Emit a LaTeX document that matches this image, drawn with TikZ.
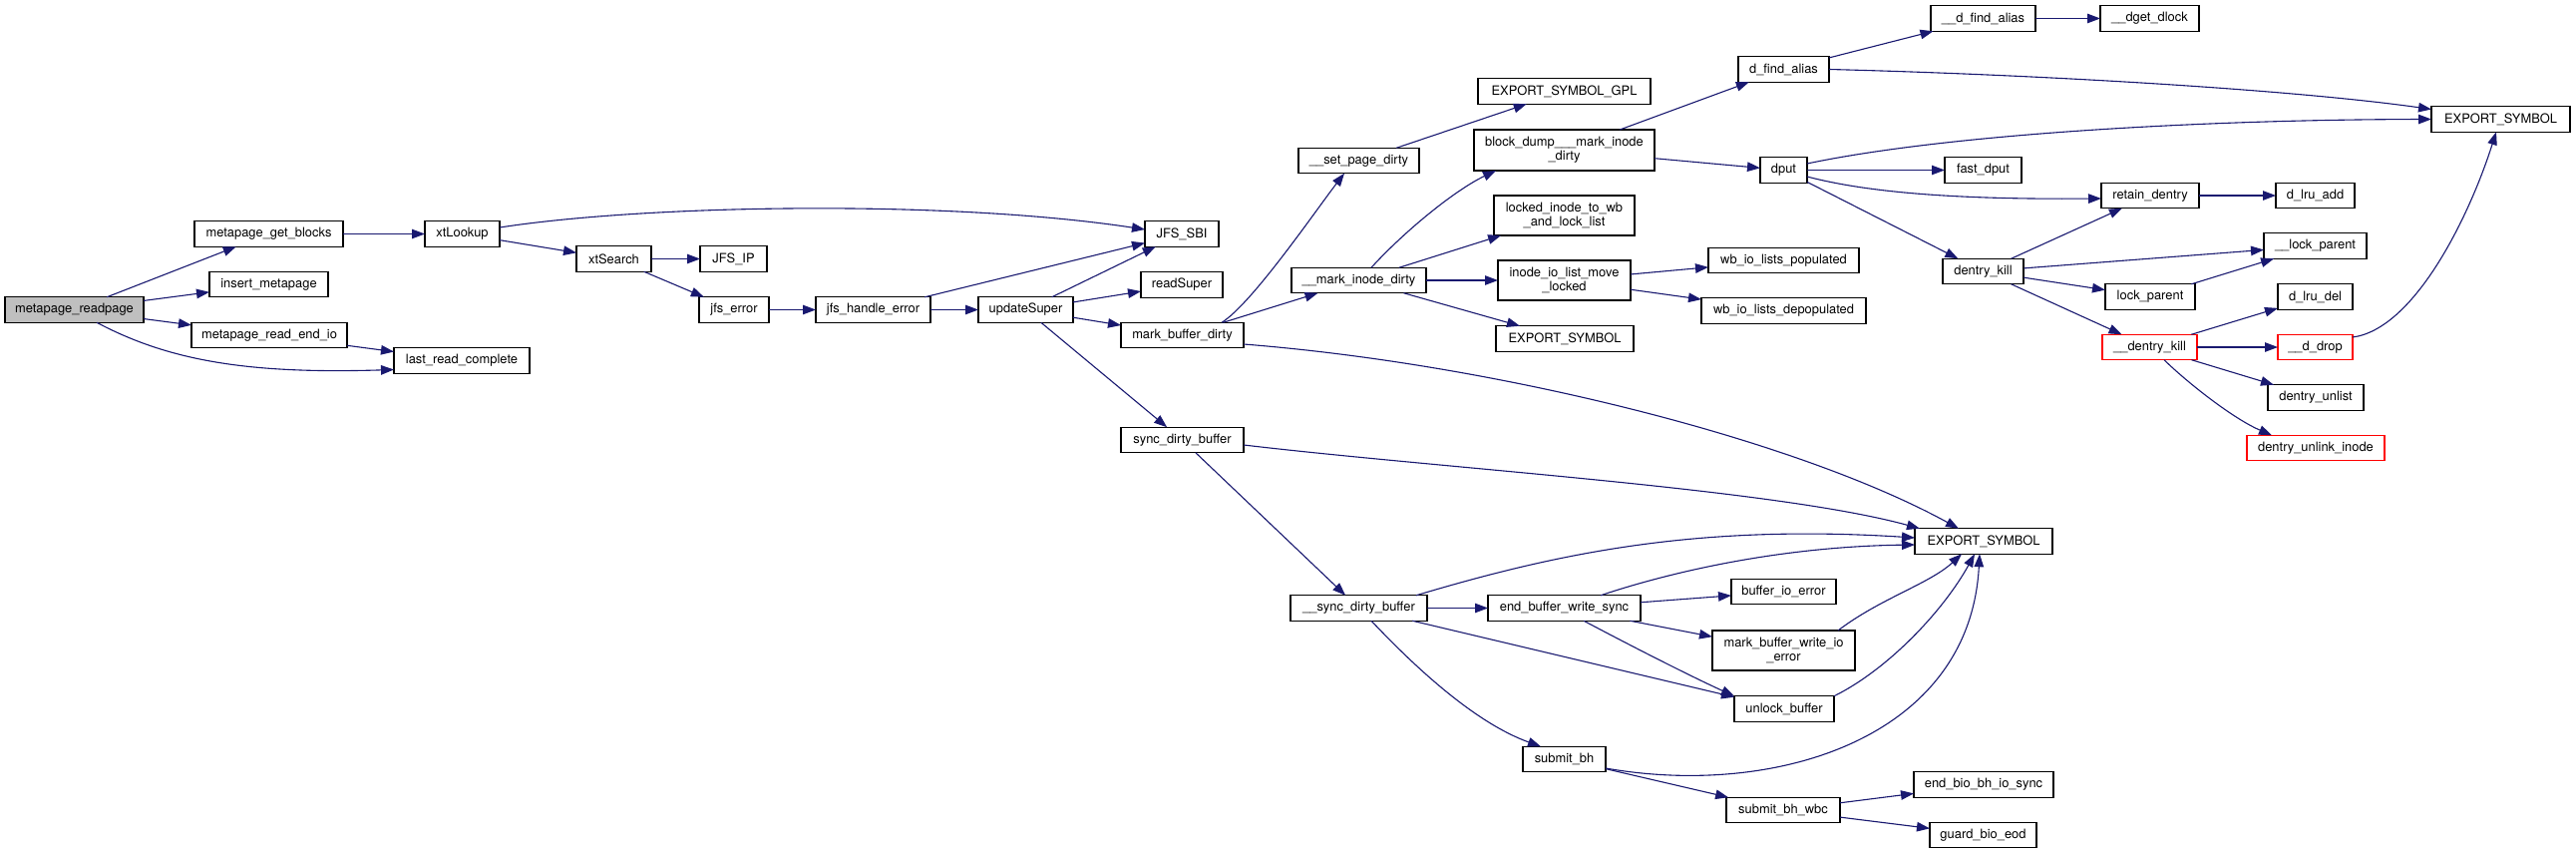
\documentclass[tikz,border=0pt]{standalone}
\usepackage{fontspec}
\setmainfont{TeX Gyre Heros}
\usetikzlibrary{arrows.meta,calc}
\definecolor{edgec}{HTML}{191970}
\definecolor{rootfill}{HTML}{BFBFBF}
\begin{document}
\begin{tikzpicture}[x=1pt,y=-1pt,
  box/.style={draw=black,line width=1.1pt,fill=white,inner sep=0pt,outer sep=0pt,
    minimum height=25.5pt,font=\fontsize{12.9}{14}\selectfont,align=center},
  redbox/.style={box,draw=red},
  edge/.style={draw=edgec,line width=1.1pt,-{Triangle[length=13pt,width=9.5pt]}}]
\fill[white] (0,0) rectangle (2583,856);
\useasboundingbox (0,0) rectangle (2583,856);
% nodes
\node[box,fill=rootfill,minimum width=139pt] (mrp) at (74.5,310.5) {metapage\_readpage};
\node[box,minimum width=149pt] (mgb) at (269.5,234.5) {metapage\_get\_blocks};
\node[box,minimum width=119pt] (ins) at (269.5,285) {insert\_metapage};
\node[box,minimum width=156pt] (mre) at (270,336) {metapage\_read\_end\_io};
\node[box,minimum width=136pt] (lrc) at (463,361.5) {last\_read\_complete};
\node[box,minimum width=75pt] (xtl) at (463.5,234.5) {xtLookup};
\node[box,minimum width=75pt] (xts) at (615.5,259.5) {xtSearch};
\node[box,minimum width=67pt] (jip) at (735.5,259.5) {JFS\_IP};
\node[box,minimum width=70pt] (jerr) at (736,310.5) {jfs\_error};
\node[box,minimum width=115pt] (jhe) at (875.5,310.5) {jfs\_handle\_error};
\node[box,minimum width=95pt] (ups) at (1028.5,310.5) {updateSuper};
\node[box,minimum width=74pt] (sbi) at (1185,234.5) {JFS\_SBI};
\node[box,minimum width=82pt] (rs) at (1185,285.5) {readSuper};
\node[box,minimum width=123pt] (mbd) at (1185.5,336) {mark\_buffer\_dirty};
\node[box,minimum width=123pt] (sdb) at (1185.5,441) {sync\_dirty\_buffer};
\node[box,minimum width=121pt] (spd) at (1362.5,161) {\_\_set\_page\_dirty};
\node[box,minimum width=135pt] (mid) at (1362.5,281) {\_\_mark\_inode\_dirty};
\node[box,minimum width=173pt] (esg) at (1568.5,91.5) {EXPORT\_SYMBOL\_GPL};
\node[box,minimum width=181pt,minimum height=41pt] (bdm) at (1568.5,150.5) {block\_dump\_\_\_mark\_inode\\\_dirty};
\node[box,minimum width=141pt,minimum height=40pt] (liw) at (1568.5,216) {locked\_inode\_to\_wb\\\_and\_lock\_list};
\node[box,minimum width=133pt,minimum height=40pt] (iol) at (1568.5,281) {inode\_io\_list\_move\\\_locked};
\node[box,minimum width=138pt] (es2) at (1569,339.5) {EXPORT\_SYMBOL};
\node[box,minimum width=91pt] (dfa) at (1788.5,69.5) {d\_find\_alias};
\node[box,minimum width=47pt] (dput) at (1788.5,170.5) {dput};
\node[box,minimum width=151pt] (wbp) at (1788.5,261) {wb\_io\_lists\_populated};
\node[box,minimum width=165pt] (wbd) at (1788.5,311.5) {wb\_io\_lists\_depopulated};
\node[box,minimum width=105pt] (dfa2) at (1988.5,18.5) {\_\_d\_find\_alias};
\node[box,minimum width=99pt] (dgd) at (2155.5,18.5) {\_\_dget\_dlock};
\node[box,minimum width=77pt] (fdp) at (1988.5,170.5) {fast\_dput};
\node[box,minimum width=98pt] (rd) at (2156,196) {retain\_dentry};
\node[box,minimum width=81pt] (dk) at (1988.5,272) {dentry\_kill};
\node[box,minimum width=90pt] (lp) at (2156,297.5) {lock\_parent};
\node[box,minimum width=139pt] (es1) at (2507.5,119.5) {EXPORT\_SYMBOL};
\node[box,minimum width=79pt] (dla) at (2321.5,196) {d\_lru\_add};
\node[box,minimum width=103pt] (llp) at (2321.5,246.5) {\_\_lock\_parent};
\node[box,minimum width=75pt] (dld) at (2321.5,297.5) {d\_lru\_del};
\node[redbox,minimum width=95pt] (dki) at (2155.5,348) {\_\_dentry\_kill};
\node[redbox,minimum width=75pt] (ddr) at (2321.5,348) {\_\_d\_drop};
\node[box,minimum width=96pt] (dul) at (2322,398.5) {dentry\_unlist};
\node[redbox,minimum width=138pt] (dui) at (2322,449) {dentry\_unlink\_inode};
\node[box,minimum width=138pt] (es3) at (1989,542.5) {EXPORT\_SYMBOL};
\node[box,minimum width=137pt] (sdb2) at (1362.5,609.5) {\_\_sync\_dirty\_buffer};
\node[box,minimum width=153pt] (ebw) at (1568.5,609.5) {end\_buffer\_write\_sync};
\node[box,minimum width=105pt] (bie) at (1788.5,593) {buffer\_io\_error};
\node[box,minimum width=143pt,minimum height=40pt] (mbw) at (1788.5,652) {mark\_buffer\_write\_io\\\_error};
\node[box,minimum width=100pt] (ub) at (1789,710.5) {unlock\_buffer};
\node[box,minimum width=83pt] (sbh) at (1568.5,761) {submit\_bh};
\node[box,minimum width=114pt] (sbw) at (1788,812) {submit\_bh\_wbc};
\node[box,minimum width=140pt] (ebb) at (1989,786.5) {end\_bio\_bh\_io\_sync};
\node[box,minimum width=107pt] (gbe) at (1988.5,837) {guard\_bio\_eod};
% edges
\draw[edge] (mrp) -- (mgb);
\draw[edge] (mrp) -- (ins);
\draw[edge] (mrp) -- (mre);
\draw[edge] ($(mrp.south)+(22.5,0)$) .. controls (170,362) and (250,375) .. ($(lrc.west)+(0,9)$);
\draw[edge] (mre) -- (lrc);
\draw[edge] (mgb) -- (xtl);
\draw[edge] ($(xtl.east)+(0,-6.5)$) .. controls (650,205) and (950,200) .. ($(sbi.west)+(0,-4.5)$);
\draw[edge] (xtl) -- (xts);
\draw[edge] (xts) -- (jip);
\draw[edge] (xts) -- (jerr);
\draw[edge] (jerr) -- (jhe);
\draw[edge] (jhe) -- (sbi);
\draw[edge] (jhe) -- (ups);
\draw[edge] (ups) -- (sbi);
\draw[edge] (ups) -- (rs);
\draw[edge] (ups) -- (mbd);
\draw[edge] (ups) -- (sdb);
\draw[edge] ($(mbd.north)+(39.5,0)$) .. controls (1255,305) and (1320,210) .. ($(spd.south)+(-14.5,0)$);
\draw[edge] (mbd) -- (mid);
\draw[edge] ($(mbd.east)+(0,9)$) .. controls (1500,365) and (1800,440) .. ($(es3.north)+(-25,0)$);
\draw[edge] (spd) -- (esg);
\draw[edge] ($(mid.north)+(12.5,0)$) .. controls (1410,230) and (1460,190) .. ($(bdm.south)+(-68.5,0)$);
\draw[edge] (mid) -- (liw);
\draw[edge] (mid) -- (iol);
\draw[edge] (mid) -- (es2);
\draw[edge] (bdm) -- (dfa);
\draw[edge] (bdm) -- (dput);
\draw[edge] (iol) -- (wbp);
\draw[edge] (iol) -- (wbd);
\draw[edge] (dfa) -- (dfa2);
\draw[edge] (dfa.east) .. controls (2050,75) and (2300,90) .. ($(es1.west)+(0,-10)$);
\draw[edge] (dfa2) -- (dgd);
\draw[edge] ($(dput.east)+(0,-6.5)$) .. controls (1950,135) and (2200,120) .. (es1.west);
\draw[edge] (dput) -- (fdp);
\draw[edge] ($(dput.east)+(0,6.5)$) .. controls (1880,195) and (1980,200) .. ($(rd.west)+(0,3)$);
\draw[edge] (dput) -- (dk);
\draw[edge] (dk) -- (rd);
\draw[edge] (dk) -- (llp);
\draw[edge] (dk) -- (lp);
\draw[edge] (dk) -- (dki);
\draw[edge] (lp) -- (llp);
\draw[edge] (rd) -- (dla);
\draw[edge] (dki) -- (dld);
\draw[edge] (dki) -- (ddr);
\draw[edge] (dki) -- (dul);
\draw[edge] ($(dki.south)+(14.5,0)$) .. controls (2195,385) and (2240,420) .. ($(dui.north)+(-44,0)$);
\draw[edge] ($(ddr.east)+(0,-10)$) .. controls (2420,330) and (2475,220) .. ($(es1.south)+(-4.5,0)$);
\draw[edge] ($(sdb.east)+(0,5)$) .. controls (1450,470) and (1780,490) .. ($(es3.north west)+(5,0)$);
\draw[edge] (sdb) -- (sdb2);
\draw[edge] ($(sdb2.north)+(57.5,0)$) .. controls (1560,555) and (1700,525) .. ($(es3.west)+(0,-3.5)$);
\draw[edge] (sdb2) -- (ebw);
\draw[edge] (sdb2) -- (ub);
\draw[edge] ($(sdb2.south)+(12.5,0)$) .. controls (1420,670) and (1480,725) .. ($(sbh.north)+(-23.5,0)$);
\draw[edge] ($(ebw.north)+(36.5,0)$) .. controls (1670,575) and (1780,548) .. ($(es3.west)+(0,3.5)$);
\draw[edge] (ebw) -- (bie);
\draw[edge] (ebw) -- (mbw);
\draw[edge] ($(ebw.south)+(19.5,0)$) .. controls (1650,655) and (1700,680) .. (ub.north west);
\draw[edge] ($(mbw.north)+(54.5,0)$) .. controls (1885,600) and (1935,585) .. ($(es3.south)+(-22,0)$);
\draw[edge] (ub.north east) .. controls (1895,670) and (1950,610) .. ($(es3.south)+(-9,0)$);
\draw[edge] ($(sbh.east)+(0,9)$) .. controls (1780,800) and (1975,740) .. ($(es3.south)+(-4,0)$);
\draw[edge] (sbh) -- (sbw);
\draw[edge] (sbw) -- (ebb);
\draw[edge] (sbw) -- (gbe);
\end{tikzpicture}
\end{document}
